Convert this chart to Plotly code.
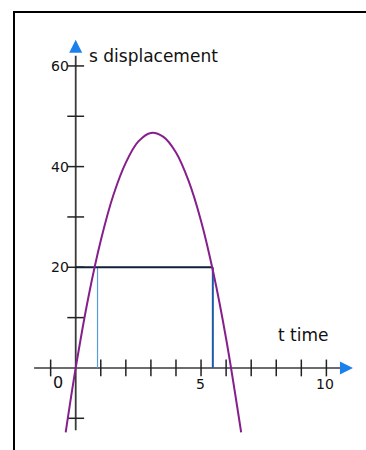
import plotly.graph_objects as go

# displacement curve s(t)
t_curve = [-0.4, 0, 0.5, 1, 1.5, 2, 2.5, 3, 3.5, 4, 4.5, 5, 5.5, 6, 6.6]
s_curve = [-12.8, 0, 13.9, 25.3, 34.3, 40.8, 45.0, 46.7, 45.9, 42.8, 37.2, 29.2, 18.7, 5.8, -12.8]

# the s = 20 level and the two times marked under it
s_level = 20
t_marks = [0.87, 5.47]

# axes: extent and ticks
t_extent = [-1.66, 10.8]
s_extent = [-12.4, 62]
t_arrow = 11.06
s_arrow = 65.2
t_ticks = [-1, 1, 2, 3, 4, 5, 6, 7, 8, 9, 10]
s_ticks = [-10, 10, 20, 30, 40, 50, 60]
t_labels = [5, 10]
s_labels = [20, 40, 60]

FONT = "DejaVu Sans"
AXIS_COL = "#3a3a3a"
BLUE = "#1c80ec"

fig = go.Figure()

# axis lines
fig.add_trace(go.Scatter(x=t_extent, y=[0, 0], mode="lines",
                         line=dict(color=AXIS_COL, width=1.6), hoverinfo="skip"))
fig.add_trace(go.Scatter(x=[0, 0], y=s_extent, mode="lines",
                         line=dict(color=AXIS_COL, width=1.8), hoverinfo="skip"))

# tick marks crossing the axes
fig.add_trace(go.Scatter(x=t_ticks, y=[0] * len(t_ticks), mode="markers",
                         marker=dict(symbol="line-ns", size=12,
                                     line=dict(color="#222222", width=1.5)),
                         hoverinfo="skip"))
fig.add_trace(go.Scatter(x=[0] * len(s_ticks), y=s_ticks, mode="markers",
                         marker=dict(symbol="line-ew", size=12,
                                     line=dict(color="#222222", width=1.5)),
                         hoverinfo="skip"))

# s = 20 guide lines
fig.add_trace(go.Scatter(x=[t_marks[0], t_marks[0]], y=[0, s_level], mode="lines",
                         line=dict(color="#5a9ad8", width=1.2), hoverinfo="skip"))
fig.add_trace(go.Scatter(x=[t_marks[1], t_marks[1]], y=[0, s_level], mode="lines",
                         line=dict(color="#1b5aa6", width=2), hoverinfo="skip"))
fig.add_trace(go.Scatter(x=[0, t_marks[1]], y=[s_level, s_level], mode="lines",
                         line=dict(color="#0f2038", width=2), hoverinfo="skip"))

# the parabola
fig.add_trace(go.Scatter(x=t_curve, y=s_curve, mode="lines",
                         line=dict(color="#861f8c", width=2, shape="spline"),
                         hoverinfo="skip"))

# arrow heads
fig.add_trace(go.Scatter(x=[0], y=[s_arrow], mode="markers",
                         marker=dict(symbol="arrow-up", size=13, color=BLUE),
                         hoverinfo="skip"))
fig.add_trace(go.Scatter(x=[t_arrow], y=[0], mode="markers",
                         marker=dict(symbol="arrow-right", size=13, color=BLUE),
                         hoverinfo="skip"))

tick_font = dict(family=FONT, size=14, color="#111111")
for v in s_labels:
    fig.add_annotation(x=0, y=v, text=str(v), showarrow=False, xanchor="right",
                       yanchor="middle", xshift=-5, font=tick_font)
for v in t_labels:
    fig.add_annotation(x=v, y=0, text=str(v), showarrow=False, xanchor="center",
                       yanchor="top", yshift=-6, xshift=-1, font=tick_font)
fig.add_annotation(x=0, y=0, text="0", showarrow=False, xanchor="center",
                   yanchor="top", xshift=-18, yshift=-3, font=dict(family=FONT, size=16, color="#111111"))

title_font = dict(family=FONT, size=17, color="#111111")
fig.add_annotation(x=0, y=s_extent[1], text="s displacement", showarrow=False,
                   xanchor="left", yanchor="middle", xshift=11, font=title_font)
fig.add_annotation(x=8, y=6.6, text="t time", showarrow=False,
                   xanchor="left", yanchor="middle", font=title_font)

# frame lines at the top and the left, drawn as one open path
fy = 1 - 12 / 450
fx = 14 / 366
fig.add_shape(type="path", xref="paper", yref="paper",
              path=f"M 1.05 {fy} L {fx} {fy} L {fx} -0.05",
              line=dict(color="black", width=2))

fig.update_layout(
    width=366, height=450, autosize=False,
    margin=dict(l=0, r=0, t=0, b=0),
    paper_bgcolor="white", plot_bgcolor="white",
    showlegend=False,
    xaxis=dict(range=[-3.02, 11.58], visible=False, fixedrange=True),
    yaxis=dict(range=[-16.3, 73.1], visible=False, fixedrange=True),
)

page_fix = ("document.documentElement.style.overflow='hidden';"
            "document.body.style.overflow='hidden';"
            "document.body.style.margin='0';")
fig.write_html("out.html", config={"displayModeBar": False}, post_script=page_fix)
